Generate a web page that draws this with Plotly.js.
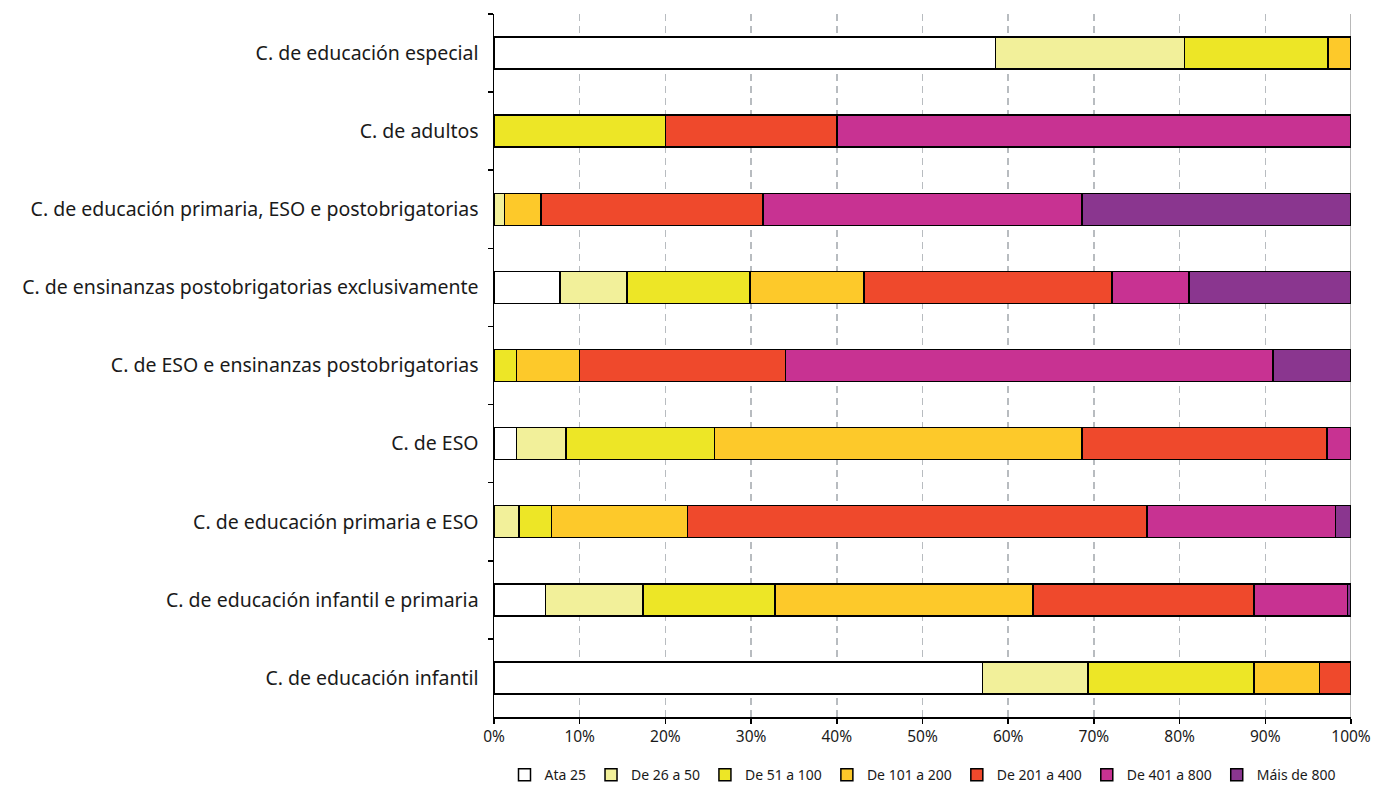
<!DOCTYPE html>
<html>
<head>
<meta charset="utf-8">
<script src="https://cdn.plot.ly/plotly-3.0.1.min.js"></script>
<style>html,body{margin:0;padding:0;background:#fff;}#chart{width:1375px;height:787px;}</style>
</head>
<body>
<div id="chart"></div>
<script>
const categories = [
  "C. de educación especial",
  "C. de adultos",
  "C. de educación primaria, ESO e postobrigatorias",
  "C. de ensinanzas postobrigatorias exclusivamente",
  "C. de ESO e ensinanzas postobrigatorias",
  "C. de ESO",
  "C. de educación primaria e ESO",
  "C. de educación infantil e primaria",
  "C. de educación infantil"
];
const seriesNames = ["Ata 25","De 26 a 50","De 51 a 100","De 101 a 200","De 201 a 400","De 401 a 800","Máis de 800"];
const ata25     = [58.5, 0,    0,    7.7,  0,    2.6,  0,    6.0,  57.0];
const de26a50   = [22.1, 0,    1.2,  7.8,  0,    5.8,  2.9,  11.4, 12.3];
const de51a100  = [16.7, 20,   0,    14.4, 2.6,  17.3, 3.8,  15.4, 19.4];
const de101a200 = [2.7,  0,    4.3,  13.3, 7.4,  42.9, 15.9, 30.1, 7.6];
const de201a400 = [0,    20,   25.9, 28.9, 24.0, 28.6, 53.6, 25.8, 3.7];
const de401a800 = [0,    60,   37.2, 9.0,  56.9, 2.8,  22.0, 10.9, 0];
const mais800   = [0,    0,    31.4, 18.9, 9.1,  0,    1.8,  0.4,  0];
const xTickVals = [0,10,20,30,40,50,60,70,80,90,100];
const xTickText = ["0%","10%","20%","30%","40%","50%","60%","70%","80%","90%","100%"];

const colors = ["#FFFFFF","#F2F09A","#EDE626","#FDC92A","#EF492C","#C83292","#8A368F"];
const allSeries = [ata25,de26a50,de51a100,de101a200,de201a400,de401a800,mais800];

const traces = allSeries.map((vals,i)=>({
  type:"bar", orientation:"h",
  name: seriesNames[i],
  y: categories, x: vals,
  marker:{color:colors[i], line:{color:"#000", width:1.5}},
  hoverinfo:"none"
}));

const layout = {
  width:1375, height:787,
  margin:{l:494, r:24, t:14, b:70, autoexpand:false},
  paper_bgcolor:"#fff", plot_bgcolor:"#fff",
  barmode:"stack", bargap:0.59,
  font:{family:"Noto Sans, Open Sans, sans-serif", color:"#1a1a1a"},
  showlegend:true,
  legend:{orientation:"h", traceorder:"normal", x:0.5, xanchor:"center", y:-0.06, yanchor:"top",
          font:{size:14, color:"#1a1a1a"}, itemwidth:30, tracegroupgap:0},
  xaxis:{range:[0,100], tickvals:xTickVals, ticktext:xTickText,
         showgrid:true, gridcolor:"#b8bcc0", griddash:"7px,5px", gridwidth:1.5,
         showline:true, linecolor:"#000", linewidth:1.5,
         ticks:"outside", ticklen:5, tickcolor:"#000", tickwidth:1.5,
         tickfont:{size:15.5, color:"#1a1a1a"}, zeroline:false, fixedrange:true},
  yaxis:{type:"category", autorange:"reversed",
         showline:true, linecolor:"#000", linewidth:1.5,
         ticks:"outside", tickson:"boundaries", ticklen:5, tickcolor:"#000", tickwidth:1.5,
         ticklabelstandoff:10,
         tickfont:{size:19.5, color:"#1a1a1a"}, showgrid:false, fixedrange:true},
  shapes:[{type:"line", xref:"x", yref:"paper", x0:100, x1:100, y0:0, y1:1,
           line:{color:"#a0a0a0", width:1.5}, layer:"below"}]
};

Plotly.newPlot("chart", traces, layout, {displayModeBar:false, staticPlot:true});
</script>
</body>
</html>
